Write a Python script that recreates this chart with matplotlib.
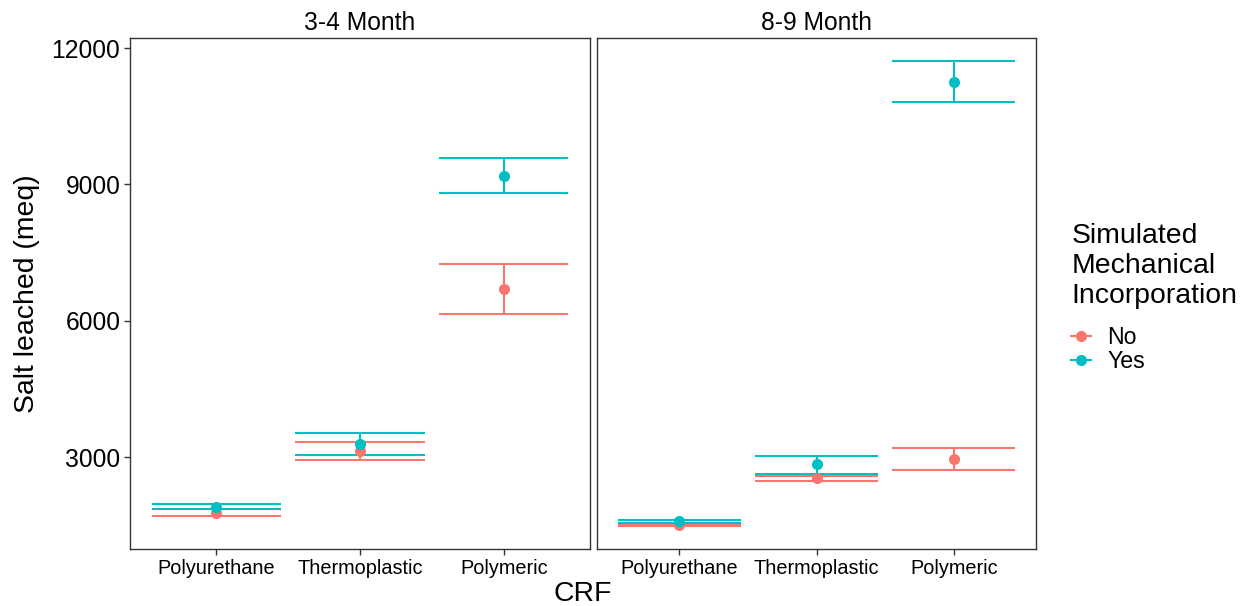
import numpy as np
import matplotlib.pyplot as plt
from matplotlib.lines import Line2D

plt.rcParams['font.family'] = ['Liberation Sans', 'DejaVu Sans']

crf = ['Polyurethane', 'Thermoplastic', 'Polymeric']
panels = ['3-4 Month', '8-9 Month']
groups = ['No', 'Yes']
colors = {'No': '#F8766D', 'Yes': '#00BFC4'}

# mean, lower, upper for each panel / group, in CRF order
mean_no_34 = [1786, 3149, 6703]
low_no_34 = [1713, 2944, 6160]
up_no_34 = [1860, 3333, 7252]
mean_yes_34 = [1918, 3289, 9193]
low_yes_34 = [1874, 3061, 8813]
up_yes_34 = [1977, 3531, 9575]

mean_no_89 = [1515, 2542, 2966]
low_no_89 = [1494, 2490, 2718]
up_no_89 = [1535, 2593, 3215]
mean_yes_89 = [1605, 2850, 11253]
low_yes_89 = [1568, 2643, 10813]
up_yes_89 = [1628, 3039, 11714]

data = {
    '3-4 Month': {'No': (mean_no_34, low_no_34, up_no_34),
                  'Yes': (mean_yes_34, low_yes_34, up_yes_34)},
    '8-9 Month': {'No': (mean_no_89, low_no_89, up_no_89),
                  'Yes': (mean_yes_89, low_yes_89, up_yes_89)},
}

W, H = 1251, 606
fig = plt.figure(figsize=(W / 100, H / 100), dpi=100)

boxes = [(130, 590), (597, 1036)]
top, bottom = 38, 549
x = np.arange(1, len(crf) + 1)

axes = []
for (l, r), name in zip(boxes, panels):
    ax = fig.add_axes([l / W, 1 - bottom / H, (r - l) / W, (bottom - top) / H])
    axes.append(ax)
    for g in groups:
        m, lo, up = (np.array(v) for v in data[name][g])
        ax.vlines(x, lo, up, color=colors[g], lw=1.5, zorder=2)
        ax.hlines(lo, x - 0.45, x + 0.45, color=colors[g], lw=1.5, zorder=2)
        ax.hlines(up, x - 0.45, x + 0.45, color=colors[g], lw=1.5, zorder=2)
    for g in groups:
        m = data[name][g][0]
        ax.plot(x, m, 'o', color=colors[g], ms=8, mec='none', zorder=3)

    ax.set_xlim(0.4, 3.6)
    ax.set_ylim(988, 12220)
    ax.set_xticks(x)
    ax.set_xticklabels(crf, fontsize=14.3)
    ax.set_yticks([3000, 6000, 9000, 12000])
    ax.tick_params(length=4, width=1, color='#333333', pad=3)
    ax.tick_params(axis='y', labelsize=17.7)
    for s in ax.spines.values():
        s.set_color('#333333')
        s.set_linewidth(1)
    ax.set_title(name, fontsize=17.7, pad=6)

axes[1].tick_params(axis='y', left=False, labelleft=False)
axes[0].set_ylabel('Salt leached (meq)', fontsize=20.4, labelpad=8)
fig.text(583 / W, 1 - 594 / H, 'CRF', fontsize=20.4, ha='center', va='center')

handles = [Line2D([0], [0], color=colors[g], marker='o', ms=8, mec='none', lw=1.5)
           for g in groups]
leg = fig.legend(handles, groups, loc='upper left', bbox_to_anchor=(1062 / W, 1 - 214 / H),
                 frameon=False, fontsize=16.7, title='Simulated\nMechanical\nIncorporation',
                 title_fontsize=20.4, handlelength=0.85, handletextpad=0.7,
                 labelspacing=0.05, borderaxespad=0)
leg._legend_box.align = 'left'
leg._legend_box.sep += 11

fig.savefig('out.png', dpi=100)
